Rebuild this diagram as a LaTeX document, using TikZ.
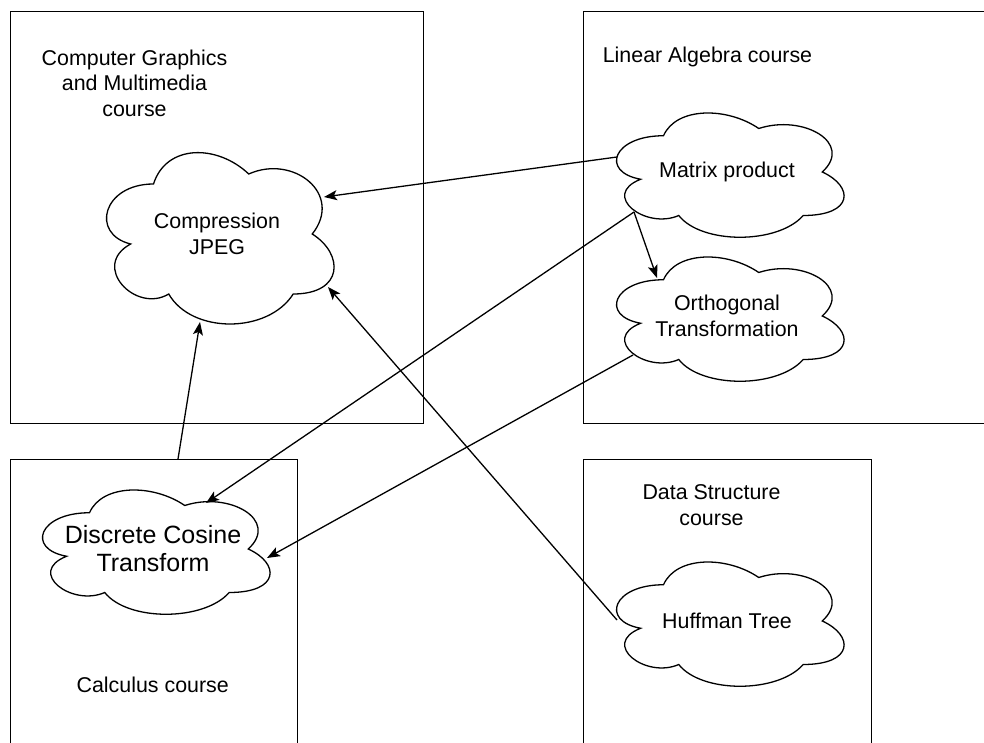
\documentclass[tikz,border=0pt]{standalone}
\usepackage{fontspec}
\setmainfont{Liberation Sans}
\usepackage{tikz}
\usetikzlibrary{arrows.meta}

\newcommand{\cloudoutline}[3]{%
  \draw[line width=1.3pt, shift={(#1.north west)}, x=#2, y=-#3]
    (0.25,0.25) .. controls (0.05,0.25) and (0,0.5) .. (0.16,0.55)
    .. controls (0,0.66) and (0.18,0.9) .. (0.31,0.8)
    .. controls (0.4,1) and (0.7,1) .. (0.8,0.8)
    .. controls (1,0.8) and (1,0.6) .. (0.875,0.5)
    .. controls (1,0.3) and (0.8,0.1) .. (0.625,0.2)
    .. controls (0.5,0.05) and (0.3,0.05) .. (0.25,0.25) -- cycle;}

\tikzset{
  course/.style={draw, line width=1.4pt, rectangle, inner sep=0pt, anchor=north west},
  cloudnode/.style={rectangle, minimum width=254pt, minimum height=145pt, inner sep=0pt, outer sep=0pt, align=center},
  link/.style={line width=1.3pt, -{Stealth[length=13pt,width=10pt,inset=3pt]}}
}

\begin{document}
\begin{tikzpicture}[x=1pt, y=-1pt, font=\fontsize{21.4}{25.5}\selectfont]
      \clip (0,0) rectangle (984,743);
      \node[name=cgbox, course, minimum width=413pt, minimum height=412pt] at (10,11) {};
      \node[name=labox, course, minimum width=420pt, minimum height=412pt] at (583,11) {};
      \node[name=calbox, course, minimum width=287pt, minimum height=310pt] at (10,459) {};
      \node[name=dsbox, course, minimum width=288pt, minimum height=310pt] at (583,459) {};
      \node[name=cgtext, align=center] at (134.5,83) {Computer Graphics\\and Multimedia\\course};
      \node[name=latext] at (707.5,57) {Linear Algebra course};
      \node[name=dstext, align=center] at (711.5,505) {Data Structure\\course};
      \node[name=caltext] at (152.7,685) {Calculus course};
      \node[name=jpeg, cloudnode, minimum height=200pt] at (217,234) {Compression\\JPEG};
      \node[name=mp, cloudnode] at (727,172) {Matrix product};
      \node[name=orth, cloudnode] at (727,316) {Orthogonal\\Transformation};
      \node[name=dct, cloudnode, font=\fontsize{25}{28}\selectfont] at (153,549) {Discrete Cosine\\Transform};
      \node[name=huff, cloudnode] at (727,621) {Huffman Tree};
      \cloudoutline{jpeg}{254pt}{200pt}
      \cloudoutline{mp}{254pt}{145pt}
      \cloudoutline{orth}{254pt}{145pt}
      \cloudoutline{dct}{254pt}{145pt}
      \cloudoutline{huff}{254pt}{145pt}
      \draw[link] ([shift={(-110,-15)}]mp.center) -- ([shift={(107,-37)}]jpeg.center);
      \draw[link] ([shift={(-93,40)}]mp.center) -- ([shift={(-70,-38)}]orth.center);
      \draw[link] ([shift={(-93,40)}]mp.center) -- ([shift={(53,-46)}]dct.center);
      \draw[link] ([shift={(-94,39)}]orth.center) -- ([shift={(114,9)}]dct.center);
      \draw[link] ([xshift=168pt]calbox.north west) -- ([shift={(-17,88)}]jpeg.center);
      \draw[link] ([shift={(-110,-1)}]huff.center) -- ([shift={(111,53)}]jpeg.center);
   \end{tikzpicture}
\end{document}
